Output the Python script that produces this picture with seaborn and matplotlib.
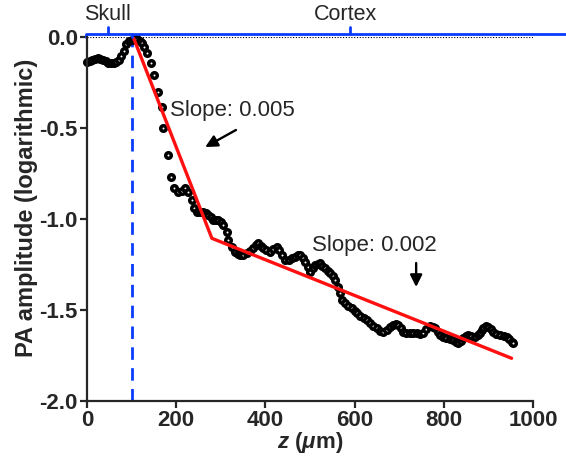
import matplotlib
matplotlib.use("Agg")
import matplotlib.pyplot as plt
import seaborn as sns
import pandas as pd

# Depth profile of normalised PA amplitude (log scale)
depth_um = [0, 6, 12, 18, 24, 30, 36, 42, 48, 54, 60, 66, 72, 77, 82, 88, 94, 100,
            106, 112, 118, 123, 128, 134, 143, 150, 160, 169, 171, 182, 188, 195,
            205, 214, 220, 227, 235, 239, 246, 254, 261, 267, 272, 278, 283, 289,
            294, 300, 306, 313, 317, 324, 332, 338, 343, 350, 358, 365, 373, 378,
            384, 390, 395, 402, 410, 418, 425, 431, 437, 444, 452, 459, 466, 472,
            478, 484, 489, 495, 500, 506, 511, 517, 522, 528, 534, 540, 545, 551,
            556, 563, 567, 571, 578, 586, 594, 600, 605, 612, 620, 627, 634, 642,
            650, 657, 663, 672, 680, 687, 693, 698, 704, 709, 716, 724, 731, 739,
            746, 754, 761, 769, 775, 780, 786, 791, 798, 806, 814, 821, 827, 832,
            838, 844, 850, 855, 862, 870, 876, 881, 885, 889, 895, 900, 906, 911,
            918, 926, 934, 941, 947, 952, 956]
amplitude = [-0.134, -0.130, -0.126, -0.120, -0.115, -0.116, -0.122, -0.132, -0.140,
             -0.143, -0.140, -0.135, -0.122, -0.100, -0.072, -0.038, -0.018, -0.012,
             -0.010, -0.010, -0.020, -0.032, -0.055, -0.087, -0.142, -0.206, -0.298,
             -0.381, -0.500, -0.647, -0.766, -0.830, -0.849, -0.845, -0.830, -0.849,
             -0.894, -0.940, -0.959, -0.962, -0.959, -0.968, -0.977, -0.990, -1.004,
             -1.006, -1.004, -1.015, -1.032, -1.069, -1.114, -1.151, -1.179, -1.190,
             -1.197, -1.195, -1.188, -1.175, -1.160, -1.140, -1.133, -1.145, -1.160,
             -1.172, -1.179, -1.165, -1.151, -1.170, -1.197, -1.225, -1.222, -1.215,
             -1.206, -1.197, -1.197, -1.215, -1.234, -1.265, -1.289, -1.270, -1.252,
             -1.245, -1.243, -1.255, -1.270, -1.285, -1.298, -1.315, -1.335, -1.372,
             -1.408, -1.445, -1.463, -1.478, -1.490, -1.505, -1.518, -1.530, -1.545,
             -1.555, -1.570, -1.585, -1.600, -1.615, -1.620, -1.610, -1.595, -1.582,
             -1.578, -1.582, -1.600, -1.620, -1.625, -1.628, -1.628, -1.628, -1.630,
             -1.628, -1.605, -1.588, -1.592, -1.600, -1.620, -1.637, -1.648, -1.655,
             -1.660, -1.665, -1.675, -1.683, -1.670, -1.655, -1.645, -1.637, -1.640,
             -1.646, -1.638, -1.628, -1.612, -1.600, -1.590, -1.591, -1.605, -1.620,
             -1.630, -1.637, -1.642, -1.646, -1.660, -1.674, -1.683]

# Two-segment linear fit (cortex surface -> knee -> deep tissue)
fit_depth = [104, 280, 952]
fit_amplitude = [0.0, -1.105, -1.765]

skull_surface_um = 100
x_ticks = [0, 200, 400, 600, 800, 1000]
y_ticks = [-2.0, -1.5, -1.0, -0.5, 0.0]

sns.set_style("ticks")
plt.rcParams["font.family"] = ["Liberation Sans", "DejaVu Sans"]
plt.rcParams["mathtext.fontset"] = "custom"
plt.rcParams["mathtext.it"] = "Liberation Sans:italic:bold"
plt.rcParams["mathtext.rm"] = "Liberation Sans:bold"

profile = pd.DataFrame({"z": depth_um, "amp": amplitude})
fit = pd.DataFrame({"z": fit_depth, "amp": fit_amplitude})

fig = plt.figure(figsize=(5.66, 4.61), dpi=100)
ax = fig.add_axes([0.1537, 0.1302, 0.788, 0.7885])

blue = "#0a3cff"

# reference lines
ax.plot([0, 1000], [0, 0], color="black", lw=0.8, ls=(0, (1, 1.5)), zorder=1)
ax.plot([skull_surface_um, skull_surface_um], [-2.0, 0.0], color=blue, lw=2.0,
        ls=(0, (4.5, 3)), zorder=2, clip_on=False)

sns.scatterplot(data=profile, x="z", y="amp", ax=ax, marker="o", s=16,
                facecolor="white", edgecolor="black", linewidth=2.5,
                zorder=3, clip_on=False)
sns.lineplot(data=fit, x="z", y="amp", ax=ax, color="#ff1010", lw=2.4,
             zorder=4, estimator=None, sort=False)

# skull / cortex bracket along the top
top = 0.02
ax.plot([-3, -3, 1200], [0.0, top, top], color=blue, lw=2.0, clip_on=False, zorder=5)
ax.plot([skull_surface_um, skull_surface_um], [top, 0.0], color=blue, lw=2.0,
        clip_on=False, zorder=5)
ax.plot([47, 47], [top, 0.055], color=blue, lw=2.0, clip_on=False, zorder=5)
ax.plot([590, 590], [top, 0.055], color=blue, lw=2.0, clip_on=False, zorder=5)
ax.text(47, 0.07, "Skull", ha="center", va="bottom", fontsize=15.5)
ax.text(580, 0.07, "Cortex", ha="center", va="bottom", fontsize=15.5)

# slope annotations
ax.text(186, -0.40, "Slope: 0.005", ha="left", va="center", fontsize=16)
ax.annotate("", xy=(265, -0.603), xytext=(334, -0.509),
            arrowprops=dict(arrowstyle="-|>", color="black", lw=1.7,
                            mutation_scale=18, shrinkA=0, shrinkB=0))
ax.text(505, -1.147, "Slope: 0.002", ha="left", va="center", fontsize=16)
ax.annotate("", xy=(738, -1.373), xytext=(738, -1.241),
            arrowprops=dict(arrowstyle="-|>", color="black", lw=1.7,
                            mutation_scale=18, shrinkA=0, shrinkB=0))

ax.set_xlim(0, 1000)
ax.set_ylim(-2.0, 0.0)
ax.set_xticks(x_ticks)
ax.set_yticks(y_ticks)
ax.set_xticklabels([f"{v}" for v in x_ticks], fontsize=16, fontweight="bold")
ax.set_yticklabels([f"{v:.1f}" for v in y_ticks], fontsize=16, fontweight="bold")
ax.tick_params(axis="both", direction="out", length=5, width=1.6, pad=1.5)

ax.set_xlabel(r"$z$ ($\mu$m)", fontsize=16, fontweight="bold", labelpad=-1)
ax.set_ylabel("PA amplitude (logarithmic)", fontsize=17, fontweight="bold")
ax.yaxis.set_label_coords(-0.11, 0.53)

for side in ("top", "right"):
    ax.spines[side].set_visible(False)
for side in ("left", "bottom"):
    ax.spines[side].set_linewidth(1.6)
ax.spines["left"].set_zorder(6)

fig.savefig("out.png", dpi=100)
